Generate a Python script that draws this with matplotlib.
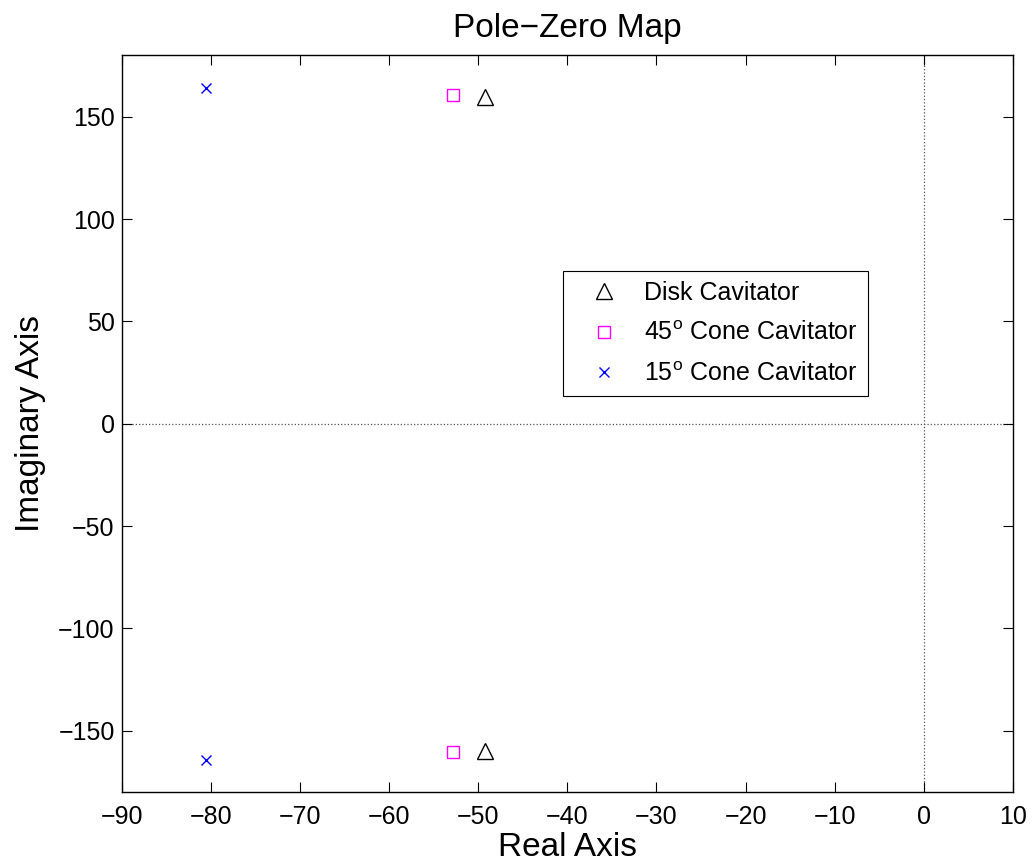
import matplotlib
matplotlib.use('Agg')
import matplotlib.pyplot as plt

plt.rcParams['font.family'] = ['Liberation Sans', 'DejaVu Sans']
plt.rcParams['mathtext.fontset'] = 'custom'
plt.rcParams['mathtext.rm'] = 'Liberation Sans'
plt.rcParams['axes.unicode_minus'] = True

# pole locations (real, imag)
disk_re = [-49.2, -49.2]
disk_im = [159.6, -159.6]
cone45_re = [-52.8, -52.8]
cone45_im = [160.4, -160.4]
cone15_re = [-80.5, -80.5]
cone15_im = [164.0, -164.0]

labels = ['Disk Cavitator', '45$^{\\mathrm{o}}$ Cone Cavitator', '15$^{\\mathrm{o}}$ Cone Cavitator']
xticks = list(range(-90, 11, 10))
yticks = list(range(-150, 151, 50))

fig = plt.figure(figsize=(10.33, 8.67), dpi=100)
ax = fig.add_axes([0.1178, 0.0862, 0.8628, 0.85])

ax.axhline(0, color='#555555', linestyle=':', linewidth=0.9, zorder=0)
ax.axvline(0, color='#555555', linestyle=':', linewidth=0.9, zorder=0)

ax.plot(disk_re, disk_im, linestyle='none', marker='^', markersize=11,
        markerfacecolor='none', markeredgecolor='k', markeredgewidth=1.0, label=labels[0])
ax.plot(cone45_re, cone45_im, linestyle='none', marker='s', markersize=8,
        markerfacecolor='none', markeredgecolor='#ff00ff', markeredgewidth=1.0, label=labels[1])
ax.plot(cone15_re, cone15_im, linestyle='none', marker='x', markersize=7,
        color='#0000ff', markeredgewidth=1.0, label=labels[2])

ax.set_xlim(-90, 10)
ax.set_ylim(-180, 180)
ax.set_xticks(xticks)
ax.set_yticks(yticks)
ax.tick_params(direction='in', length=7, width=0.8, top=True, right=True, labelsize=18)
ax.tick_params(axis='x', pad=9)
ax.tick_params(axis='y', pad=5)
for s in ax.spines.values():
    s.set_linewidth(1.0)

ax.set_xlabel('Real Axis', fontsize=24, labelpad=2)
ax.set_ylabel('Imaginary Axis', fontsize=24, labelpad=9)
ax.set_title('Pole\u2212Zero Map', fontsize=24, pad=13)

leg = ax.legend(loc='upper left', bbox_to_anchor=(0.495, 0.7073), fontsize=18,
                frameon=True, fancybox=False, edgecolor='k', framealpha=1,
                borderpad=0.4, handlelength=2.5, handletextpad=0.35, labelspacing=0.65,
                borderaxespad=0)
leg.get_frame().set_linewidth(0.8)

fig.savefig('out.png', dpi=100)
